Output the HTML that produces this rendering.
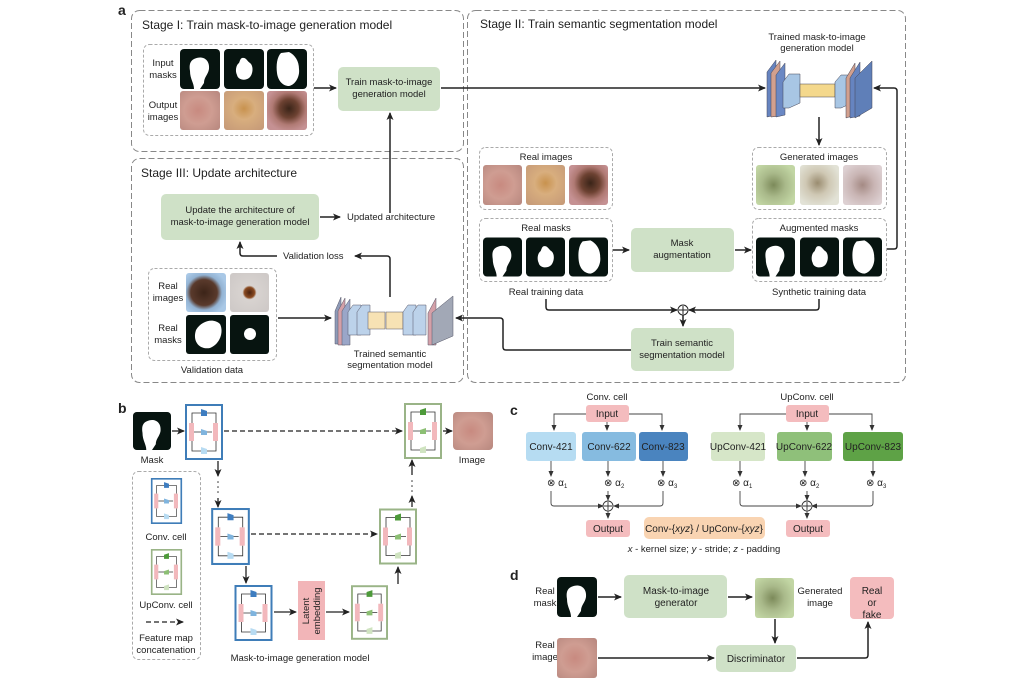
<!DOCTYPE html>
<html><head><meta charset="utf-8"><style>
html,body{margin:0;padding:0;background:#fff}
svg{display:block;font-family:"Liberation Sans",Arial,sans-serif}
text{fill:#222}
</style></head><body>
<svg width="1024" height="683" viewBox="0 0 1024 683" xmlns="http://www.w3.org/2000/svg">
<defs>
<marker id="ar" markerWidth="8" markerHeight="8" refX="7" refY="4" orient="auto" markerUnits="userSpaceOnUse"><path d="M0,0.5 L8,4 L0,7.5 L2,4z" fill="#222"/></marker>
<marker id="as" markerWidth="6" markerHeight="6" refX="5" refY="3" orient="auto" markerUnits="userSpaceOnUse"><path d="M0,0.5 L6,3 L0,5.5z" fill="#333"/></marker>
<radialGradient id="sk1" cx="0.45" cy="0.5" r="0.7"><stop offset="0" stop-color="#c88a80"/><stop offset="0.5" stop-color="#cf9d92"/><stop offset="1" stop-color="#b98980"/></radialGradient>
<radialGradient id="sk2" cx="0.5" cy="0.45" r="0.7"><stop offset="0" stop-color="#c8924e"/><stop offset="0.4" stop-color="#d8ae7e"/><stop offset="1" stop-color="#c69a78"/></radialGradient>
<radialGradient id="sk3" cx="0.55" cy="0.45" r="0.6"><stop offset="0" stop-color="#3a2418"/><stop offset="0.4" stop-color="#6d4232"/><stop offset="0.7" stop-color="#b07a74"/><stop offset="1" stop-color="#c59193"/></radialGradient>
<radialGradient id="g1" cx="0.45" cy="0.5" r="0.6"><stop offset="0" stop-color="#7c8a5a"/><stop offset="0.5" stop-color="#a9b98a"/><stop offset="1" stop-color="#c2d6a4"/></radialGradient>
<radialGradient id="g2" cx="0.45" cy="0.45" r="0.6"><stop offset="0" stop-color="#9a8c70"/><stop offset="0.5" stop-color="#cfc8b4"/><stop offset="1" stop-color="#e2e2d6"/></radialGradient>
<radialGradient id="g3" cx="0.5" cy="0.5" r="0.6"><stop offset="0" stop-color="#a48a84"/><stop offset="0.5" stop-color="#c9b5b4"/><stop offset="1" stop-color="#ddd0d2"/></radialGradient>
<radialGradient id="v1" cx="0.45" cy="0.5" r="0.6"><stop offset="0" stop-color="#3c2418"/><stop offset="0.55" stop-color="#5a3a2c"/><stop offset="0.75" stop-color="#93b3d3"/><stop offset="1" stop-color="#a9c8e6"/></radialGradient>
<radialGradient id="v2" cx="0.5" cy="0.5" r="0.6"><stop offset="0" stop-color="#4a2210"/><stop offset="0.22" stop-color="#8a4a20"/><stop offset="0.3" stop-color="#d8d3d0"/><stop offset="1" stop-color="#cfcac8"/></radialGradient>
<symbol id="conv" viewBox="0 0 38 56">
<rect x="1" y="1" width="36" height="54" fill="#fff" stroke="#3f7db8" stroke-width="2"/>
<path d="M7,19 V9 H31 V19 M7,37 V47 H31 V37 M9,28 H27" fill="none" stroke="#333" stroke-width="0.8"/>
<rect x="4" y="19" width="5" height="18" fill="#f2b8bc"/><rect x="28" y="19" width="5" height="18" fill="#f2b8bc"/>
<path d="M16,5 L22,7 V12 L16,12z" fill="#3e7dc0"/><path d="M16,25 L22,27 V31 L16,31z" fill="#7fb4de"/><path d="M16,43 L22,45 V50 L16,50z" fill="#b7dbf2"/>
</symbol>
<symbol id="up" viewBox="0 0 38 56">
<rect x="1" y="1" width="36" height="54" fill="#fff" stroke="#9ab487" stroke-width="2"/>
<path d="M7,19 V9 H31 V19 M7,37 V47 H31 V37 M9,28 H27" fill="none" stroke="#333" stroke-width="0.8"/>
<rect x="4" y="19" width="5" height="18" fill="#f2b8bc"/><rect x="28" y="19" width="5" height="18" fill="#f2b8bc"/>
<path d="M22,5 L16,7 V12 L22,12z" fill="#4d9a3a"/><path d="M22,25 L16,27 V31 L22,31z" fill="#8cbf74"/><path d="M22,43 L16,45 V50 L22,50z" fill="#cfe3c0"/>
</symbol>
<symbol id="mk1" viewBox="0 0 40 40"><rect width="40" height="40" rx="4" fill="#071410"/><path d="M14,10 C22,6 30,10 29,20 C28,26 24,28 24,34 L20,40 L14,40 C14,34 10,30 10,22 C9,16 10,12 14,10z" fill="#fff"/></symbol>
<symbol id="mk2" viewBox="0 0 40 40"><rect width="40" height="40" rx="4" fill="#071410"/><path d="M18,9 C22,8 23,12 26,14 C30,17 29,26 25,29 C21,32 14,31 13,26 C11,22 12,16 15,14 C16,12 16,10 18,9z" fill="#fff"/></symbol>
<symbol id="mk3" viewBox="0 0 40 40"><rect width="40" height="40" rx="4" fill="#071410"/><path d="M14,4 L22,3 C28,6 32,12 32,20 C33,28 28,36 22,37 C16,37 11,32 10,24 C9,16 10,8 14,4z" fill="#fff"/></symbol>
</defs>

<!-- ===== Panel a ===== -->
<text x="118" y="15" font-size="14" font-weight="bold" fill="#000">a</text>
<g fill="none" stroke="#888" stroke-dasharray="6,3" stroke-width="1">
<rect x="131.5" y="10.5" width="332" height="141" rx="8"/>
<rect x="131.5" y="158.5" width="332" height="224" rx="8"/>
<rect x="467.5" y="10.5" width="438" height="372" rx="8"/>
</g>
<g fill="none" stroke="#aaa" stroke-dasharray="3,2" stroke-width="1">
<rect x="143.5" y="44.5" width="170" height="91" rx="6"/>
<rect x="148.5" y="268.5" width="128" height="92" rx="6"/>
<rect x="479.5" y="147.5" width="133" height="62" rx="6"/>
<rect x="479.5" y="218.5" width="133" height="63" rx="6"/>
<rect x="752.5" y="147.5" width="134" height="62" rx="6"/>
<rect x="752.5" y="218.5" width="134" height="63" rx="6"/>
<rect x="132.5" y="471.5" width="68" height="188" rx="6"/>
</g>
<text x="142" y="29" font-size="12">Stage I: Train mask-to-image generation model</text>
<text x="141" y="177" font-size="12">Stage III: Update architecture</text>
<text x="480" y="28" font-size="12">Stage II: Train semantic segmentation model</text>

<g font-size="9.5" text-anchor="middle">
<text x="163" y="66">Input</text><text x="163" y="78">masks</text>
<text x="163" y="108">Output</text><text x="163" y="120">images</text>
<text x="168" y="289">Real</text><text x="168" y="301">images</text>
<text x="168" y="331">Real</text><text x="168" y="343">masks</text>
<text x="212" y="373">Validation data</text>
<text x="390" y="357">Trained semantic</text><text x="390" y="368">segmentation model</text>
<text x="817" y="40">Trained mask-to-image</text><text x="817" y="51">generation model</text>
<text x="546" y="160">Real images</text><text x="546" y="231">Real masks</text>
<text x="819" y="160">Generated images</text><text x="819" y="231">Augmented masks</text>
<text x="546" y="295">Real training data</text><text x="819" y="295">Synthetic training data</text>
</g>
<use href="#mk1" x="180" y="49" width="40" height="40"/><use href="#mk2" x="224" y="49" width="40" height="40"/><use href="#mk3" x="267" y="49" width="40" height="40"/>
<rect x="180" y="91" width="40" height="39" rx="3" fill="url(#sk1)"/><rect x="224" y="91" width="40" height="39" rx="3" fill="url(#sk2)"/><rect x="267" y="91" width="40" height="39" rx="3" fill="url(#sk3)"/>
<rect x="186" y="273" width="40" height="39" rx="3" fill="url(#v1)"/><rect x="230" y="273" width="39" height="39" rx="3" fill="url(#v2)"/>
<rect x="186" y="315" width="40" height="39" rx="3" fill="#071410"/><path d="M196,330 C202,320 214,318 220,324 C224,332 220,344 210,348 C200,350 192,342 196,330z" fill="#fff"/>
<rect x="230" y="315" width="39" height="39" rx="3" fill="#071410"/><circle cx="250" cy="334" r="6" fill="#fff"/>
<rect x="483" y="165" width="39" height="40" rx="3" fill="url(#sk1)"/><rect x="526" y="165" width="39" height="40" rx="3" fill="url(#sk2)"/><rect x="569" y="165" width="39" height="40" rx="3" fill="url(#sk3)"/>
<use href="#mk1" x="483" y="237" width="39" height="40"/><use href="#mk2" x="526" y="237" width="39" height="40"/><use href="#mk3" x="569" y="237" width="39" height="40"/>
<rect x="756" y="165" width="39" height="40" rx="3" fill="url(#g1)"/><rect x="800" y="165" width="39" height="40" rx="3" fill="url(#g2)"/><rect x="843" y="165" width="39" height="40" rx="3" fill="url(#g3)"/>
<use href="#mk1" x="756" y="237" width="39" height="40"/><use href="#mk2" x="800" y="237" width="39" height="40"/><use href="#mk3" x="843" y="237" width="39" height="40"/>

<!-- green boxes -->
<g fill="#cfe1c7">
<rect x="338" y="67" width="102" height="44" rx="5"/>
<rect x="161" y="194" width="158" height="46" rx="5"/>
<rect x="631" y="228" width="103" height="44" rx="5"/>
<rect x="631" y="328" width="103" height="43" rx="5"/>
</g>
<g font-size="9.5" text-anchor="middle">
<text x="389" y="85">Train mask-to-image</text><text x="389" y="97">generation model</text>
<text x="240" y="213">Update the architecture of</text><text x="240" y="225">mask-to-image generation model</text>
<text x="682" y="246">Mask</text><text x="682" y="258">augmentation</text>
<text x="682" y="346">Train semantic</text><text x="682" y="358">segmentation model</text>
</g>
<text x="347" y="220" font-size="9.5">Updated architecture</text>
<text x="283" y="259" font-size="9.5">Validation loss</text>

<!-- arrows a -->
<g fill="none" stroke="#222" stroke-width="1.5" marker-end="url(#ar)">
<path d="M314,88 H336"/>
<path d="M441,88 H765"/>
<path d="M390,213 V113"/>
<path d="M320,217 H340"/>
<path d="M390,297 V259 Q390,256 387,256 H355"/>
<path d="M277,256 H243 Q240,256 240,253 V242"/>
<path d="M278,318 H331"/>
<path d="M631,350 H506 Q503,350 503,347 V321 Q503,318 500,318 H456"/>
<path d="M819,117 V145"/>
<path d="M613,250 H629"/>
<path d="M735,250 H751"/>
<path d="M887,249 H894 Q897,249 897,246 V91 Q897,88 894,88 H874"/>
<path d="M546,299 V307 Q546,310 549,310 H677"/>
<path d="M819,299 V307 Q819,310 816,310 H689"/>
<path d="M683,315 V326"/>
</g>
<circle cx="683" cy="310" r="5" fill="#fff" stroke="#222" stroke-width="1"/><path d="M683,306 V314 M679,310 H687" stroke="#222" stroke-width="1"/>

<!-- generator drawing -->
<g stroke="#445" stroke-width="0.5">
<polygon points="767,72 776,60 776,115 767,117" fill="#6684c0"/>
<polygon points="771,73 780,61 780,116 771,117" fill="#d2a08e"/>
<polygon points="776,75 785,63 785,115 776,117" fill="#6a88c4"/>
<polygon points="783,82 789,74 800,74 800,103 789,108 783,108" fill="#a8c6e4"/>
<rect x="800" y="84" width="35" height="13" fill="#f4d88c"/>
<polygon points="835,82 841,75 852,75 852,103 841,108 835,108" fill="#a8c6e4"/>
<polygon points="846,78 855,63 855,115 846,118" fill="#d2a08e"/>
<polygon points="850,78 860,62 860,116 850,118" fill="#6684c0"/>
<polygon points="855,78 872,61 872,108 855,118" fill="#5f7fb8"/>
</g>
<!-- segmentation drawing -->
<g stroke="#556" stroke-width="0.5">
<polygon points="335,311 341,297 341,344 335,344" fill="#8f9bb8"/>
<polygon points="338,311 345,298 345,345 338,345" fill="#d4a0a8"/>
<polygon points="342,311 350,299 350,345 342,345" fill="#9aa6c8"/>
<polygon points="348,312 353,305 361,305 361,335 356,335 348,335" fill="#bcd2ea"/>
<polygon points="357,312 362,305 370,305 370,335 357,335" fill="#bcd2ea"/>
<rect x="368" y="312" width="17" height="17" fill="#f7e2b4"/>
<rect x="386" y="312" width="17" height="17" fill="#f7e2b4"/>
<polygon points="403,312 408,305 416,305 416,335 403,335" fill="#bcd2ea"/>
<polygon points="413,312 418,305 426,305 426,335 413,335" fill="#bcd2ea"/>
<polygon points="428,313 436,298 436,345 428,345" fill="#d4a0a8"/>
<polygon points="432,313 453,296 453,336 432,345" fill="#a2a8b6"/>
</g>

<!-- ===== Panel b ===== -->
<text x="118" y="413" font-size="14" font-weight="bold" fill="#000">b</text>
<use href="#mk1" x="133" y="411" width="38" height="40"/>
<rect x="453" y="412" width="40" height="38" rx="4" fill="url(#sk1)"/>
<g font-size="9.5" text-anchor="middle"><text x="152" y="463">Mask</text><text x="472" y="463">Image</text>
<text x="166" y="540">Conv. cell</text><text x="166" y="608">UpConv. cell</text>
<text x="166" y="641">Feature map</text><text x="166" y="653">concatenation</text>
<text x="300" y="661">Mask-to-image generation model</text></g>
<use href="#conv" x="185" y="404" width="38" height="56"/>
<use href="#conv" x="211" y="508" width="39" height="57"/>
<use href="#conv" x="234" y="585" width="39" height="56"/>
<use href="#conv" x="146" y="478" width="41" height="46"/>
<use href="#up" x="404" y="403" width="38" height="56"/>
<use href="#up" x="379" y="508" width="38" height="57"/>
<use href="#up" x="351" y="584" width="37" height="57"/>
<use href="#up" x="146" y="549" width="41" height="46"/>
<rect x="298" y="581" width="27" height="59" fill="#f2b5b8"/>
<text transform="translate(309,611) rotate(-90)" font-size="9.5" text-anchor="middle">Latent</text>
<text transform="translate(320,611) rotate(-90)" font-size="9.5" text-anchor="middle">embedding</text>
<g fill="none" stroke="#222" stroke-width="1.3" marker-end="url(#ar)">
<path d="M172,431 H184"/>
<path d="M443,431 H452"/>
<path d="M218,461 V476"/><path d="M218,498 V507"/>
<path d="M246,566 V583"/>
<path d="M274,612 H296"/>
<path d="M326,612 H349"/>
<path d="M398,584 V567"/>
<path d="M412,507 V496"/><path d="M412,475 V460"/>
</g>
<g fill="none" stroke="#222" stroke-width="1.3" stroke-dasharray="5,3" marker-end="url(#ar)">
<path d="M224,431 H402"/><path d="M251,534 H377"/><path d="M146,622 H183"/>
</g>
<g fill="#333"><circle cx="218" cy="482" r="0.8"/><circle cx="218" cy="487" r="0.8"/><circle cx="218" cy="492" r="0.8"/>
<circle cx="412" cy="481" r="0.8"/><circle cx="412" cy="486" r="0.8"/><circle cx="412" cy="491" r="0.8"/></g>

<!-- ===== Panel c ===== -->
<text x="510" y="415" font-size="14" font-weight="bold" fill="#000">c</text>
<g font-size="9.5" text-anchor="middle"><text x="607" y="400">Conv. cell</text><text x="807" y="400">UpConv. cell</text></g>
<g fill="#f4bcbe"><rect x="586" y="405" width="43" height="17" rx="3"/><rect x="786" y="405" width="43" height="17" rx="3"/>
<rect x="586" y="520" width="44" height="17" rx="3"/><rect x="786" y="520" width="44" height="17" rx="3"/></g>
<rect x="526" y="432" width="50" height="29" rx="3" fill="#b6dcf2"/>
<rect x="582" y="432" width="54" height="29" rx="3" fill="#86bbe0"/>
<rect x="639" y="432" width="49" height="29" rx="3" fill="#4a84bf"/>
<rect x="711" y="432" width="54" height="29" rx="3" fill="#d6e6c8"/>
<rect x="777" y="432" width="55" height="29" rx="3" fill="#8fc07a"/>
<rect x="843" y="432" width="60" height="29" rx="3" fill="#5ea246"/>
<rect x="644" y="517" width="121" height="22" rx="5" fill="#f9d4b2"/>
<g font-size="10" text-anchor="middle">
<text x="607" y="417">Input</text><text x="807" y="417">Input</text>
<text x="551" y="450">Conv-421</text><text x="609" y="450">Conv-622</text><text x="663" y="450">Conv-823</text>
<text x="738" y="450">UpConv-421</text><text x="804" y="450">UpConv-622</text><text x="873" y="450">UpConv-823</text>
<text x="608" y="532">Output</text><text x="808" y="532">Output</text>
<text x="704" y="532">Conv-{<tspan font-style="italic">xyz</tspan>} / UpConv-{<tspan font-style="italic">xyz</tspan>}</text>
</g>
<text x="704" y="552" font-size="9.5" text-anchor="middle"><tspan font-style="italic">x</tspan> - kernel size; <tspan font-style="italic">y</tspan> - stride; <tspan font-style="italic">z</tspan> - padding</text>
<g font-size="10"><text x="547" y="486">⊗ α<tspan font-size="6" dy="2">1</tspan></text><text x="604" y="486">⊗ α<tspan font-size="6" dy="2">2</tspan></text><text x="657" y="486">⊗ α<tspan font-size="6" dy="2">3</tspan></text>
<text x="732" y="486">⊗ α<tspan font-size="6" dy="2">1</tspan></text><text x="799" y="486">⊗ α<tspan font-size="6" dy="2">2</tspan></text><text x="866" y="486">⊗ α<tspan font-size="6" dy="2">3</tspan></text></g>
<g fill="none" stroke="#444" stroke-width="0.9" marker-end="url(#as)">
<path d="M586,414 H554 V430"/><path d="M629,414 H662 V430"/><path d="M607,422 V430"/>
<path d="M786,414 H740 V430"/><path d="M829,414 H872 V430"/><path d="M807,422 V430"/>
<path d="M551,461 V476"/><path d="M608,461 V476"/><path d="M663,461 V476"/>
<path d="M740,461 V476"/><path d="M805,461 V476"/><path d="M873,461 V476"/>
<path d="M551,491 V503 Q551,506 554,506 H603"/><path d="M663,491 V503 Q663,506 660,506 H614"/><path d="M608,491 V500"/><path d="M608,511 V518"/>
<path d="M740,491 V503 Q740,506 743,506 H801"/><path d="M873,491 V503 Q873,506 870,506 H812"/><path d="M807,491 V500"/><path d="M807,511 V518"/>
</g>
<g fill="#fff" stroke="#333" stroke-width="0.9"><circle cx="608" cy="506" r="5"/><circle cx="807" cy="506" r="5"/></g>
<path d="M608,502 V510 M604,506 H612 M807,502 V510 M803,506 H811" stroke="#333" stroke-width="0.9"/>

<!-- ===== Panel d ===== -->
<text x="510" y="580" font-size="14" font-weight="bold" fill="#000">d</text>
<g font-size="9.5" text-anchor="middle"><text x="545" y="594">Real</text><text x="545" y="606">mask</text>
<text x="545" y="648">Real</text><text x="545" y="660">image</text>
<text x="820" y="594">Generated</text><text x="820" y="606">image</text></g>
<use href="#mk1" x="557" y="577" width="40" height="40"/>
<rect x="557" y="638" width="40" height="40" rx="3" fill="url(#sk1)"/>
<rect x="755" y="578" width="39" height="40" rx="3" fill="url(#g1)"/>
<rect x="624" y="575" width="103" height="43" rx="5" fill="#cfe1c7"/>
<rect x="716" y="645" width="80" height="27" rx="5" fill="#cfe1c7"/>
<rect x="850" y="577" width="44" height="42" rx="4" fill="#f4bcbe"/>
<g font-size="10" text-anchor="middle"><text x="676" y="594">Mask-to-image</text><text x="676" y="606">generator</text>
<text x="756" y="662">Discriminator</text><text x="872" y="594">Real</text><text x="872" y="606">or</text><text x="872" y="618">fake</text></g>
<g fill="none" stroke="#222" stroke-width="1.5" marker-end="url(#ar)">
<path d="M598,597 H621"/><path d="M728,597 H752"/><path d="M775,619 V643"/>
<path d="M598,658 H714"/><path d="M797,658 H865 Q868,658 868,655 V622"/>
</g>
</svg>
</body></html>
